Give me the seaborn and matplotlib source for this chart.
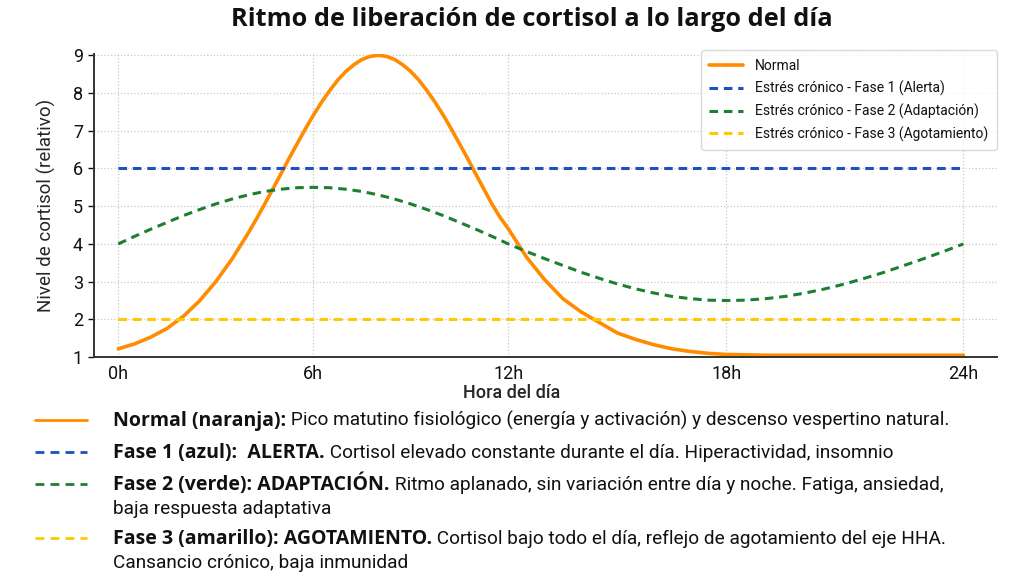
import matplotlib
matplotlib.use("Agg")
import matplotlib.pyplot as plt
import seaborn as sns
import numpy as np
import pandas as pd
from matplotlib.lines import Line2D

# Data
horas_normal = [0, 0.5, 1, 1.5, 2, 2.5, 3, 3.5,
                4, 4.25, 4.5, 4.75, 5, 5.25, 5.5, 5.75, 6, 6.25, 6.5, 6.75,
                7, 7.25, 7.5, 7.75, 8, 8.25, 8.5, 8.75, 9, 9.25, 9.5, 9.75,
                10, 10.25, 10.5, 10.75, 11, 11.25, 11.5, 11.75,
                12, 12.5, 13, 13.5, 14, 14.5, 15, 15.5, 16, 16.5, 17, 17.5,
                18, 18.5, 19, 19.5, 20, 20.5, 21, 21.5, 22, 22.5, 23, 23.5, 24]
normal = [1.22, 1.35, 1.53, 1.76, 2.08, 2.49, 3.0, 3.6,
          4.29, 4.66, 5.05, 5.45, 5.85, 6.26, 6.65, 7.04, 7.41, 7.75, 8.06, 8.34,
          8.57, 8.75, 8.89, 8.97, 9.0, 8.97, 8.89, 8.75, 8.57, 8.34, 8.06, 7.75,
          7.41, 7.04, 6.65, 6.26, 5.85, 5.45, 5.05, 4.7,
          4.4, 3.65, 3.05, 2.55, 2.2, 1.92, 1.64, 1.47, 1.33, 1.22, 1.15, 1.1,
          1.07, 1.06, 1.05, 1.05, 1.05, 1.05, 1.05, 1.05, 1.05, 1.05, 1.05, 1.05, 1.05]

horas = [i * 0.5 for i in range(49)]
fase1 = [6.0] * 49
fase2 = [4.0, 4.2, 4.39, 4.57, 4.75, 4.91, 5.06, 5.19, 5.3, 5.39, 5.45, 5.49, 5.5,
         5.49, 5.45, 5.39, 5.3, 5.19, 5.06, 4.91, 4.75, 4.57, 4.39, 4.2, 4.0,
         3.8, 3.61, 3.43, 3.25, 3.09, 2.94, 2.81, 2.7, 2.61, 2.55, 2.51, 2.5,
         2.51, 2.55, 2.61, 2.7, 2.81, 2.94, 3.09, 3.25, 3.43, 3.61, 3.8, 4.0]
fase3 = [2.0] * 49

x_ticks = [0, 6, 12, 18, 24]
x_labels = ["0h", "6h", "12h", "18h", "24h"]
y_ticks = [1, 2, 3, 4, 5, 6, 7, 8, 9]

series = [
    ("Normal", horas_normal, normal, "#ff8c00", "-", 2.6),
    ("Estrés crónico - Fase 1 (Alerta)", horas, fase1, "#1f50c2", (0, (2.8, 1.9)), 2.2),
    ("Estrés crónico - Fase 2 (Adaptación)", horas, fase2, "#1d8031", (0, (2.8, 1.9)), 2.2),
    ("Estrés crónico - Fase 3 (Agotamiento)", horas, fase3, "#ffc800", (0, (2.8, 1.9)), 2.2),
]

notas = [
    ("Normal (naranja):", " Pico matutino fisiológico (energía y activación) y descenso vespertino natural.", None),
    ("Fase 1 (azul):  ALERTA.", " Cortisol elevado constante durante el día. Hiperactividad, insomnio", None),
    ("Fase 2 (verde): ADAPTACIÓN.", " Ritmo aplanado, sin variación entre día y noche. Fatiga, ansiedad,", "baja respuesta adaptativa"),
    ("Fase 3 (amarillo): AGOTAMIENTO.", " Cortisol bajo todo el día, reflejo de agotamiento del eje HHA.", "Cansancio crónico, baja inmunidad"),
]

sns.set_theme(style="white")
plt.rcParams['font.family'] = ['Roboto', 'DejaVu Sans']
plt.rcParams['text.color'] = '#111111'
bold_font = ['Open Sans', 'DejaVu Sans']

fig, ax = plt.subplots(figsize=(10.24, 5.76), dpi=100)
plt.subplots_adjust(left=0.092, right=0.974, bottom=0.38, top=0.906)

# the reference's hour axis is slightly uneven, keep its tick spacing
knot_h = [-1, 0, 6, 12, 18, 24, 25]
knot_p = [85.5, 118, 313, 508, 726, 963, 1002.5]
ax.set_xscale('function', functions=(lambda h: np.interp(h, knot_h, knot_p),
                                     lambda p: np.interp(p, knot_p, knot_h)))

for name, xs, vals, color, ls, lw in series:
    df = pd.DataFrame({'hora': xs, 'nivel': vals})
    sns.lineplot(data=df, x='hora', y='nivel', color=color, linestyle=ls,
                 linewidth=lw, label=name, ax=ax)

ax.set_xlim(-0.74, 24.86)
ax.set_ylim(1, 9.03)
ax.set_xticks(x_ticks)
ax.set_xticklabels(x_labels)
ax.xaxis.set_minor_locator(matplotlib.ticker.NullLocator())
ax.set_yticks(y_ticks)
ax.tick_params(axis='x', length=0, labelsize=13, colors='#111111', pad=6)
ax.tick_params(axis='y', length=4, width=1, labelsize=13, colors='#111111', left=True, pad=4)
ax.grid(True, linestyle=':', color='#c8c8c8', linewidth=0.9)

for s in ['top', 'right']:
    ax.spines[s].set_visible(False)
for s in ['left', 'bottom']:
    ax.spines[s].set_color('#333333')
    ax.spines[s].set_linewidth(1.4)

ax.set_xlabel('Hora del día', fontsize=13, fontweight='medium')
ax.xaxis.set_label_coords(0.462, -0.088)
ax.set_ylabel('Nivel de cortisol (relativo)', fontsize=13.5, labelpad=12)

fig.suptitle('Ritmo de liberación de cortisol a lo largo del día',
             fontsize=18.3, fontweight='bold', family=bold_font, x=0.519, y=0.988)

leg = ax.legend(loc='upper right', bbox_to_anchor=(1.007, 1.035), fontsize=10,
                handlelength=2.4, frameon=True, fancybox=True, borderpad=0.6,
                labelspacing=0.55, handletextpad=0.9)
leg.get_frame().set_edgecolor('#d0d0d0')
leg.get_frame().set_linewidth(1.0)

# Explanatory legend under the chart (bold lead + regular text on one baseline)
fs = 13.7
rows_y = [420, 452, 484, 538]
renderer = fig.canvas.get_renderer()
for (bold, rest, extra), y_px, (_, _, _, color, ls, lw) in zip(notas, rows_y, series):
    yf = 1 - y_px / 576
    sample_ls = '-' if ls == '-' else (0, (3.2, 2.2))
    fig.add_artist(Line2D([35 / 1024, 87 / 1024], [yf, yf], transform=fig.transFigure,
                          color=color, linestyle=sample_ls, linewidth=2.0))
    yb = 1 - (y_px + 6) / 576
    t = fig.text(113 / 1024, yb, bold, fontsize=14.0, fontweight='bold',
                 family=bold_font, va='baseline')
    x_end = t.get_window_extent(renderer).x1 / 1024
    fig.text(x_end, yb, rest, fontsize=fs, va='baseline')
    if extra:
        fig.text(113 / 1024, 1 - (y_px + 30) / 576, extra, fontsize=fs, va='baseline')

plt.savefig('out.png', dpi=100)
plt.close()
